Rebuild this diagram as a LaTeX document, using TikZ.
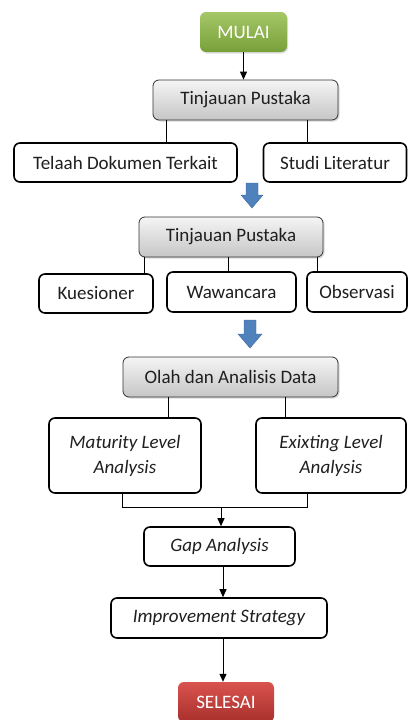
\documentclass[tikz,border=0pt]{standalone}
\usepackage{fontspec}
\setmainfont{Carlito}
\usetikzlibrary{shadows,arrows.meta,calc}
\definecolor{gtop}{HTML}{A6C766}
\definecolor{gbot}{HTML}{77A03A}
\definecolor{rtop}{HTML}{D9534F}
\definecolor{rbot}{HTML}{A8302C}
\definecolor{arrblue}{HTML}{4F81BD}
\definecolor{txtc}{HTML}{1F1F1F}
\tikzset{
  whitebox/.style={draw=black, line width=1.6pt, rounded corners=6pt, fill=white, font=\fontsize{19}{22}\selectfont, text=txtc, align=center, inner sep=0pt},
  graybox/.style={draw=black!80, line width=0.8pt, rounded corners=6pt, top color=gray!8, bottom color=gray!45, drop shadow={opacity=0.3, shadow xshift=1.5pt, shadow yshift=-1.5pt}, font=\fontsize{19}{22}\selectfont, text=txtc, inner sep=0pt},
  startbox/.style={rounded corners=6pt, top color=gtop, bottom color=gbot, drop shadow={opacity=0.25, shadow xshift=1pt, shadow yshift=-1.5pt}, font=\fontsize{19}{22}\selectfont, text=white, inner sep=0pt},
  endbox/.style={rounded corners=6pt, top color=rtop, bottom color=rbot, font=\fontsize{19}{22}\selectfont, text=white, inner sep=0pt},
  twoline/.style={font=\fontsize{19}{25}\selectfont\itshape},
  conn/.style={line width=1pt, black},
  arr/.style={conn, -{Triangle[width=7pt,length=8pt]}},
  blockarrow/.style={fill=arrblue, draw=arrblue!80!black, line width=0.4pt}
}
\begin{document}
\begin{tikzpicture}[x=1pt,y=-1pt]
\useasboundingbox (0,0) rectangle (408,720);
% nodes
\node[startbox, minimum width=87pt, minimum height=40pt] (mulai) at (243.5,32) {MULAI};
\node[graybox, minimum width=185pt, minimum height=40pt] (tp1) at (245.5,100) {Tinjauan Pustaka};
\node[whitebox, minimum width=223pt, minimum height=39pt] (tel) at (125.5,162.5) {Telaah Dokumen Terkait};
\node[whitebox, minimum width=143pt, minimum height=39pt] (studi) at (335,162.5) {Studi Literatur};
\node[graybox, minimum width=184pt, minimum height=40pt] (tp2) at (231,237) {Tinjauan Pustaka};
\node[whitebox, minimum width=114pt, minimum height=39pt] (kues) at (96,293.5) {Kuesioner};
\node[whitebox, minimum width=129pt, minimum height=40pt] (wawa) at (231.5,292) {Wawancara};
\node[whitebox, minimum width=100pt, minimum height=40pt] (obs) at (357,292) {Observasi};
\node[graybox, minimum width=215pt, minimum height=40pt] (olah) at (230.5,377) {Olah dan Analisis Data};
\node[whitebox, twoline, minimum width=152pt, minimum height=75pt] (mat) at (125,455.5) {Maturity Level\\Analysis};
\node[whitebox, twoline, minimum width=150pt, minimum height=75pt] (exi) at (331,455.5) {Exixting Level\\Analysis};
\node[whitebox, minimum width=151pt, minimum height=39pt, font=\fontsize{19}{22}\selectfont\itshape] (gap) at (219.5,546.5) {Gap Analysis};
\node[whitebox, minimum width=216pt, minimum height=40pt, font=\fontsize{19}{22}\selectfont\itshape] (imp) at (219,618) {Improvement Strategy};
\node[endbox, minimum width=96pt, minimum height=40pt] (end) at (226,702) {SELESAI};
% connectors
\draw[arr] (mulai.south) -- (mulai.south |- tp1.north);
\draw[conn] ([xshift=14pt]tp1.south west) -- ([xshift=14pt]tp1.south west |- tel.north);
\draw[conn] ([xshift=-31pt]tp1.south east) -- ([xshift=-31pt]tp1.south east |- studi.north);
\draw[conn] ([xshift=6pt]tp2.south west) -- ([xshift=6pt]tp2.south west |- kues.north);
\draw[conn] ([xshift=-3pt]tp2.south) -- ([xshift=-3pt]tp2.south |- wawa.north);
\draw[conn] ([xshift=-6pt]tp2.south east) -- ([xshift=-6pt]tp2.south east |- obs.north);
\draw[conn] ([xshift=46pt]olah.south west) -- ([xshift=46pt]olah.south west |- mat.north);
\draw[conn] ([xshift=-53pt]olah.south east) -- ([xshift=-53pt]olah.south east |- exi.north);
\coordinate (mj) at ($(mat.south)+(-3,14)$);
\coordinate (ej) at ($(exi.south)+(-24,14)$);
\coordinate (gj) at (mj -| 221,0);
\draw[conn] ([xshift=-3pt]mat.south) -- (mj) -- (ej) -- ([xshift=-24pt]exi.south);
\draw[arr] (gj) -- (gj |- gap.north);
\draw[arr] ([xshift=3.5pt]gap.south) -- ([xshift=3.5pt]gap.south |- imp.north);
\draw[arr] ([xshift=4pt]imp.south) -- ([xshift=4pt]imp.south |- end.north);
% block arrows
\draw[blockarrow] (246,183) -- (258,183) -- (258,195) -- (263,195) -- (252,208) -- (241,195) -- (246,195) -- cycle;
\draw[blockarrow] (244,320) -- (256,320) -- (256,334) -- (262,334) -- (250,348) -- (238,334) -- (244,334) -- cycle;
\end{tikzpicture}
\end{document}
